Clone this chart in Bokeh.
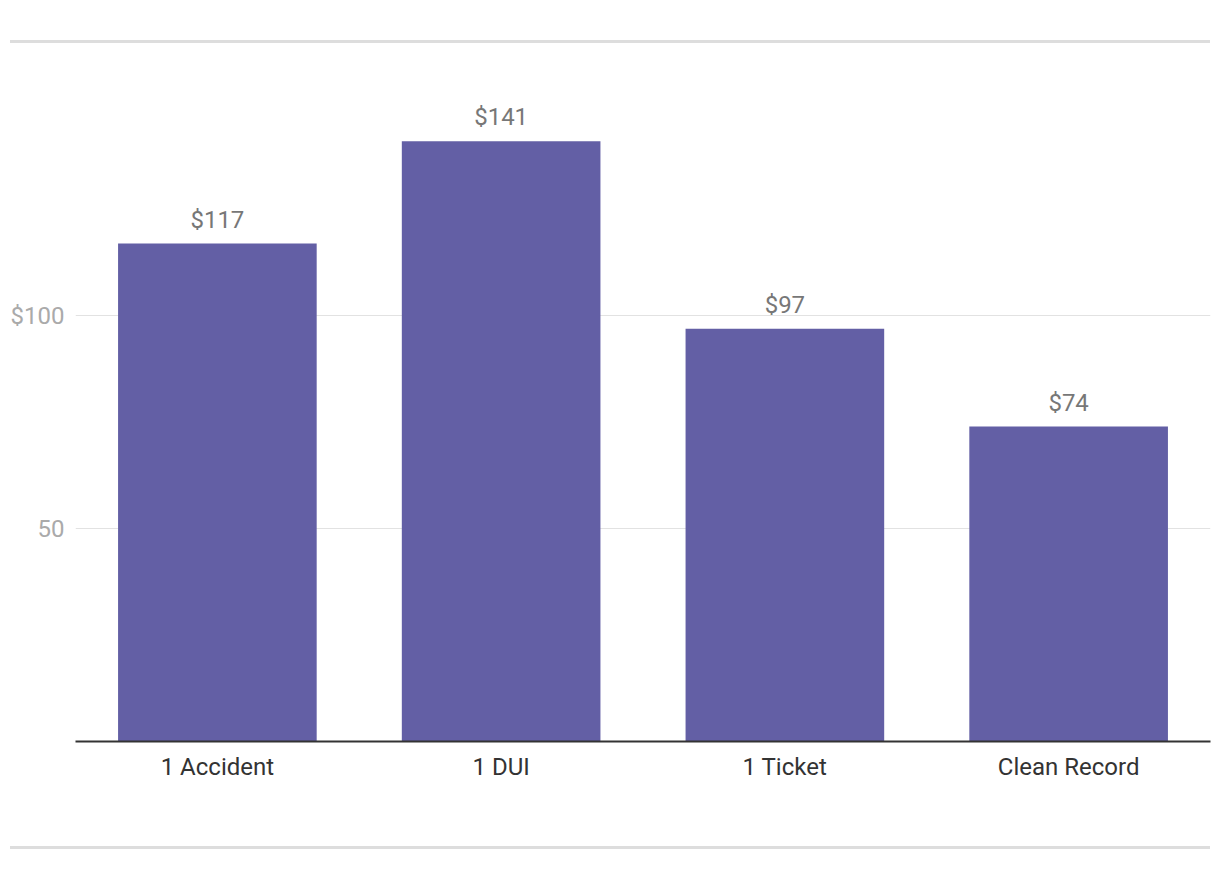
from bokeh.plotting import figure
from bokeh.models import ColumnDataSource, FixedTicker, Div, Range1d
from bokeh.layouts import column
from bokeh.core.properties import value
from bokeh.embed import file_html
from bokeh.resources import INLINE

categories = ["1 Accident", "1 DUI", "1 Ticket", "Clean Record"]
premiums = [117, 141, 97, 74]
labels = ["$117", "$141", "$97", "$74"]
y_ticks = [50, 100]
y_tick_labels = {50: "50", 100: "$100"}

src = ColumnDataSource(dict(cat=categories, val=premiums, lab=labels))

p = figure(x_range=categories, y_range=Range1d(0, 160), width=1220, height=800,
           output_backend="svg", toolbar_location=None,
           min_border_left=75, min_border_right=10, min_border_top=17, min_border_bottom=102)
p.outline_line_color = None
p.background_fill_color = "white"
p.border_fill_color = "white"

p.vbar(x="cat", top="val", width=0.7, source=src, color="#635FA5", line_color=None)
p.text(x="cat", y="val", text="lab", source=src, text_align="center", text_baseline="alphabetic",
       y_offset=-24, text_font=value("Roboto"), text_font_size="24px", text_color="#777777")

p.xgrid.grid_line_color = None
p.ygrid.grid_line_color = "#e2e2e2"
p.ygrid.grid_line_width = 1
p.yaxis.ticker = FixedTicker(ticks=y_ticks)
p.ygrid.ticker = FixedTicker(ticks=y_ticks)
p.yaxis.major_label_overrides = y_tick_labels
p.yaxis.axis_line_color = None
p.yaxis.major_tick_line_color = None
p.yaxis.minor_tick_line_color = None
p.yaxis.major_tick_out = 0
p.yaxis.major_label_standoff = 11
p.yaxis.major_label_text_font = "Roboto"
p.yaxis.major_label_text_font_size = "24px"
p.yaxis.major_label_text_color = "#aaaaaa"

p.xaxis.axis_line_color = "#333333"
p.xaxis.axis_line_width = 2
p.xaxis.major_tick_line_color = None
p.xaxis.minor_tick_line_color = None
p.xaxis.major_tick_out = 0
p.xaxis.major_label_standoff = 11
p.xaxis.major_label_text_font = "Roboto"
p.xaxis.major_label_text_font_size = "24px"
p.xaxis.major_label_text_color = "#333333"

top_line = Div(text="", width=1200, height=3, margin=(40, 0, 0, 10),
               styles={"background-color": "#dddddd"})
bottom_line = Div(text="", width=1200, height=3, margin=(3, 0, 0, 10),
                  styles={"background-color": "#dddddd"})

layout = column(top_line, p, bottom_line, spacing=0)
open("out.html", "w").write(file_html(layout, INLINE))
